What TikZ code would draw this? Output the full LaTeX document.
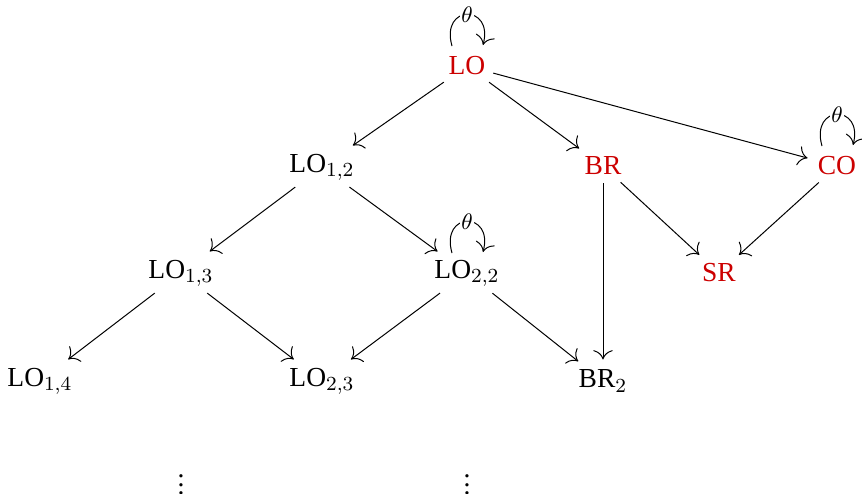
\documentclass[tikz,border=0pt]{standalone}
\usepackage{fontspec}
\setmainfont{Liberation Serif}
\usetikzlibrary{arrows.meta}
\definecolor{nred}{RGB}{204,0,0}
\newcommand\myvdots{\vbox{\baselineskip3.3pt\lineskiplimit0pt\hbox{.}\hbox{.}\hbox{.}}}
\begin{document}
\begin{tikzpicture}[x=0.4pt,y=-0.4pt,
  st/.style={inner sep=2pt,font=\fontsize{11}{13}\selectfont},
  rs/.style={st,text=nred},
  ed/.style={-{To[scale=1.5]},thin,shorten >=2pt,shorten <=1pt},
  th/.style={fill=white,inner sep=0.5pt,font=\small}]
\useasboundingbox (0,0) rectangle (862,494);
\node[rs] (LO) at (467,66) {LO};
\node[st] (L12) at (322,167) {LO$_{1,2}$};
\node[rs] (BR) at (603,166) {BR};
\node[rs] (CO) at (837,166) {CO};
\node[st] (L13) at (181,273) {LO$_{1,3}$};
\node[st] (L22) at (467,273) {LO$_{2,2}$};
\node[rs] (SR) at (719,273) {SR};
\node[st] (L14) at (40,381) {LO$_{1,4}$};
\node[st] (L23) at (322,381) {LO$_{2,3}$};
\node[st] (BR2) at (603,381) {BR$_2$};
\node[st,inner sep=0pt] (d1) at (181,485) {\myvdots};
\node[st,inner sep=0pt] (d2) at (467,485) {\myvdots};
\draw[ed] (LO) -- (L12);
\draw[ed] (LO) -- (BR);
\draw[ed] (LO) -- (CO);
\draw[ed] (L12) -- (L13);
\draw[ed] (L12) -- (L22);
\draw[ed] (BR) -- (SR);
\draw[ed] (BR) -- (BR2);
\draw[ed] (CO) -- (SR);
\draw[ed] (L13) -- (L14);
\draw[ed] (L13) -- (L23);
\draw[ed] (L22) -- (L23);
\draw[ed] (L22) -- (BR2);
\foreach \n/\cx/\cy in {LO/467/66, CO/837/166, L22/467/273}{
  \coordinate (\n-a) at (\cx-15,\cy-20);
  \coordinate (\n-b) at (\cx+16,\cy-21);
  \draw[-{To[scale=1.5]},thin] (\n-a) .. controls (\cx-27,\cy-62) and (\cx+27,\cy-62) .. node[th]{$\theta$} (\n-b);
}
\end{tikzpicture}
\end{document}
